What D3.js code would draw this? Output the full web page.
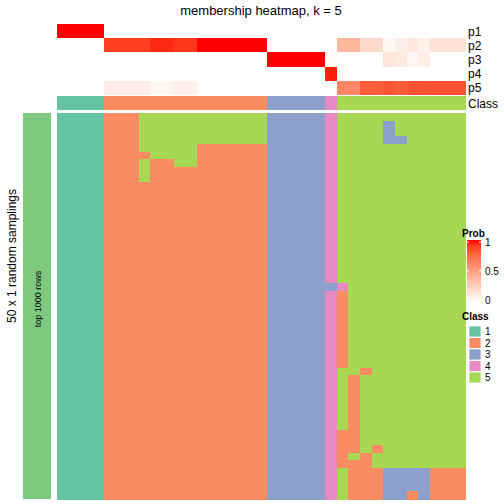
<!DOCTYPE html>
<html><head><meta charset="utf-8">
<script src="https://cdn.jsdelivr.net/npm/d3@7"></script>
<style>body{margin:0;background:#fff}svg{display:block;font-family:"Liberation Sans",Arial,sans-serif}</style>
</head><body><svg id="c" width="504" height="504"></svg>
<script>
// ---- data ----
const classOfColumn = [1,1,1,1, 2,2,2,2,2,2,2,2,2,2,2,2,2,2, 3,3,3,3,3, 4, 5,5,5,5,5,5,5,5,5,5,5];
const p1 = [1,1,1,1, 0,0,0,0,0,0,0,0,0,0,0,0,0,0, 0,0,0,0,0, 0, 0,0,0,0,0,0,0,0,0,0,0];
const p2 = [0,0,0,0, 0.9,0.9,0.9,0.9,0.95,0.95,0.92,0.92,1,1,1,1,1,1, 0,0,0,0,0, 0, 0.38,0.38,0.2,0.2,0.04,0.09,0.12,0.08,0.16,0.16,0.16];
const p3 = [0,0,0,0, 0,0,0,0,0,0,0,0,0,0,0,0,0,0, 1,1,1,1,1, 0.03, 0,0,0,0,0.14,0.11,0.05,0.09,0,0,0];
const p4 = [0,0,0,0, 0,0,0,0,0,0,0,0,0,0,0,0,0,0, 0,0,0,0,0, 0.97, 0.03,0,0,0,0,0,0,0,0,0,0];
const p5 = [0,0,0,0, 0.1,0.1,0.1,0.1,0.05,0.05,0.08,0.08,0,0,0,0,0,0, 0,0,0,0,0, 0, 0.62,0.62,0.8,0.8,0.82,0.8,0.83,0.83,0.84,0.84,0.84];
const probRows = ["p1","p2","p3","p4","p5"];
const classLevels = ["1","2","3","4","5"];
const classColors = ["#66C2A5","#FC8D62","#8DA0CB","#E78AC3","#A6D854"];
// 50 random samplings (rows) x 35 samples (columns): class assigned
const membership = [
"11112225555555555533333455555555555",
"11112225555555555533333455553555555",
"11112225555555555533333455553555555",
"11112225555555555533333455553355555",
"11112225555522222233333455555555555",
"11112222555522222233333455555555555",
"11112225225522222233333455555555555",
"11112225222222222233333455555555555",
"11112225222222222233333455555555555",
"11112222222222222233333455555555555",
"11112222222222222233333455555555555",
"11112222222222222233333455555555555",
"11112222222222222233333455555555555",
"11112222222222222233333455555555555",
"11112222222222222233333455555555555",
"11112222222222222233333455555555555",
"11112222222222222233333455555555555",
"11112222222222222233333455555555555",
"11112222222222222233333455555555555",
"11112222222222222233333455555555555",
"11112222222222222233333455555555555",
"11112222222222222233333455555555555",
"11112222222222222233333345555555555",
"11112222222222222233333425555555555",
"11112222222222222233333425555555555",
"11112222222222222233333425555555555",
"11112222222222222233333425555555555",
"11112222222222222233333425555555555",
"11112222222222222233333425555555555",
"11112222222222222233333425555555555",
"11112222222222222233333425555555555",
"11112222222222222233333425555555555",
"11112222222222222233333425555555555",
"11112222222222222233333455255555555",
"11112222222222222233333452555555555",
"11112222222222222233333452555555555",
"11112222222222222233333452555555555",
"11112222222222222233333452555555555",
"11112222222222222233333452555555555",
"11112222222222222233333452555555555",
"11112222222222222233333452555555555",
"11112222222222222233333422555555555",
"11112222222222222233333422555555555",
"11112222222222222233333422525555555",
"11112222222222222233333425255555555",
"11112222222222222233333422255555555",
"11112222222222222233333452223333222",
"11112222222222222233333452223333222",
"11112222222222222233333452223333222",
"11112222222222222233333452223323222"
];
const probTicks = [0, 0.5, 1];

// ---- drawing ----
const svg = d3.select("#c");
const cols = d3.range(classOfColumn.length);
const x = d3.scaleBand().domain(cols).range([57, 465]);
const yAnn = d3.scaleBand().domain(probRows).range([24, 95]);
const yRow = d3.scaleBand().domain(d3.range(membership.length)).range([113, 499]);
const probColor = d3.scaleLinear().domain([0,1]).range(["#FFFFFF","#FF0000"]).interpolate(d3.interpolateLab);
const classColor = d3.scaleOrdinal().domain(classLevels).range(classColors);
const probData = {p1, p2, p3, p4, p5};

// title
svg.append("text").attr("x", 261).attr("y", 15).attr("text-anchor","middle")
  .attr("font-size", 13).text("membership heatmap, k = 5");

// probability annotation
const ann = svg.append("g").attr("shape-rendering","crispEdges");
probRows.forEach(r => {
  ann.selectAll(null).data(cols).enter().append("rect")
    .attr("x", d => x(d)).attr("y", yAnn(r))
    .attr("width", x.bandwidth() + 0.5).attr("height", yAnn.bandwidth() + 0.3)
    .attr("fill", d => probColor(probData[r][d]));
  svg.append("text").attr("x", 468).attr("y", yAnn(r) + yAnn.bandwidth()/2 + 4.5)
    .attr("font-size", 12).text(r);
});
// class annotation
ann.selectAll(null).data(cols).enter().append("rect")
  .attr("x", d => x(d)).attr("y", 96).attr("width", x.bandwidth() + 0.5).attr("height", 14)
  .attr("fill", d => classColor(String(classOfColumn[d])));
svg.append("text").attr("x", 468).attr("y", 107.5).attr("font-size", 12).text("Class");

// main heatmap
const main = svg.append("g").attr("shape-rendering","crispEdges");
membership.forEach((row, i) => {
  main.selectAll(null).data(cols).enter().append("rect")
    .attr("x", d => x(d)).attr("y", yRow(i))
    .attr("width", x.bandwidth() + 0.5).attr("height", yRow.bandwidth() + 0.5)
    .attr("fill", d => classColor(row[d]));
});

// left annotation
svg.append("rect").attr("x", 23).attr("y", 113).attr("width", 28).attr("height", 386)
  .attr("fill", "#7FC97F");
svg.append("text").attr("transform","translate(41,299) rotate(-90)").attr("text-anchor","middle")
  .attr("font-size", 9).text("top 1000 rows");
svg.append("text").attr("transform","translate(16,256) rotate(-90)").attr("text-anchor","middle")
  .attr("font-size", 12).text("50 x 1 random samplings");

// legend: Prob
svg.append("text").attr("x", 462).attr("y", 237).attr("font-size", 10).attr("font-weight","bold").text("Prob");
const defs = svg.append("defs");
const grad = defs.append("linearGradient").attr("id","pg").attr("x1",0).attr("y1",1).attr("x2",0).attr("y2",0);
d3.range(0, 1.0001, 0.1).forEach(t => grad.append("stop").attr("offset", t).attr("stop-color", probColor(t)));
const ly = d3.scaleLinear().domain([0,1]).range([300, 242]);
svg.append("rect").attr("x", 467).attr("y", 240).attr("width", 14).attr("height", 62).attr("fill","url(#pg)");
probTicks.forEach(t => {
  svg.append("line").attr("x1",467).attr("x2",469).attr("y1",ly(t)).attr("y2",ly(t)).attr("stroke","#fff");
  svg.append("line").attr("x1",479).attr("x2",481).attr("y1",ly(t)).attr("y2",ly(t)).attr("stroke","#fff");
  svg.append("text").attr("x", 485).attr("y", ly(t) + 3.5).attr("font-size", 10).text(String(t));
});

// legend: Class
svg.append("text").attr("x", 462).attr("y", 320).attr("font-size", 10).attr("font-weight","bold").text("Class");
classLevels.forEach((c, i) => {
  svg.append("rect").attr("x", 469).attr("y", 326 + i*11.5).attr("width", 12).attr("height", 11)
    .attr("fill", classColor(c)).attr("stroke","#fff").attr("stroke-width",0.8);
  svg.append("text").attr("x", 485).attr("y", 326 + i*11.5 + 9).attr("font-size", 10).text(c);
});
</script></body></html>
